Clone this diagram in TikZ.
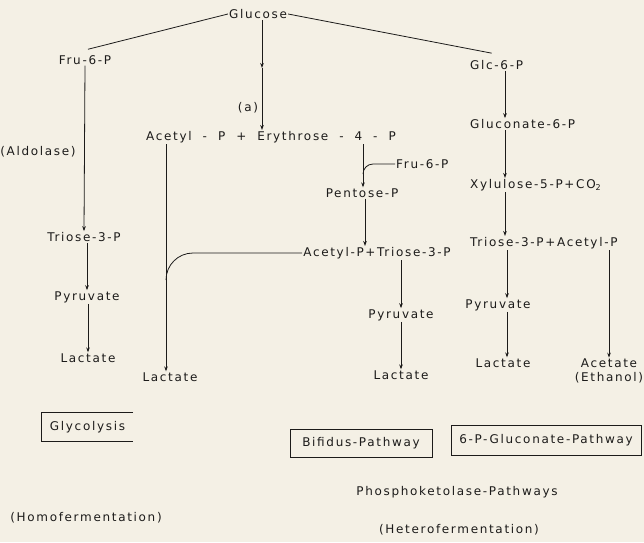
\documentclass[tikz,border=0pt]{standalone}
\usepackage{fontspec}
\setmainfont{DejaVu Sans}[LetterSpace=14]
\usetikzlibrary{arrows.meta}
\definecolor{paper}{RGB}{244,240,229}
\definecolor{ink}{RGB}{28,27,26}
\tikzset{
  txt/.style={inner sep=1pt, text=ink, font=\fontsize{12}{14}\selectfont},
  arr/.style={->, draw=ink, line width=0.8pt},
  lin/.style={draw=ink, line width=0.8pt},
  pbox/.style={txt, draw=ink, line width=0.8pt, minimum height=28pt},
}
\begin{document}
\begin{tikzpicture}[x=1pt,y=-1pt,>={Stealth[length=5pt,width=3.6pt]}]
\fill[paper] (0,0) rectangle (644,542); % фон
\useasboundingbox (0,0) rectangle (644,542);
% вещества
\node[txt] (glu) at (258,14) {Glucose};
\node[txt] (fru) at (85,60) {Fru-6-P};
\node[txt, anchor=west] (glc) at (469,65) {Glc-6-P};
\node[txt] (acery) at (271,137) {Acetyl\ \ -\ \ P\ \ +\ \ Erythrose\ \ -\ \ 4\ \ -\ \ P};
\node[txt] (a) at (248,108) {(a)};
\node[txt] (aldo) at (38,152) {(Aldolase)};
\node[txt] (triA) at (84,237) {Triose-3-P};
\node[txt] (pyrA) at (87,297) {Pyruvate};
\node[txt] (lacA) at (88,358) {Lactate};
\node[txt] (lacB) at (170,377) {Lactate};
\node[txt, anchor=west] (fruB) at (395,164) {Fru-6-P};
\node[txt] (pen) at (362,193) {Pentose-P};
\node[txt] (actri) at (377,253) {Acetyl-P+Triose-3-P};
\node[txt] (pyrB) at (401,315) {Pyruvate};
\node[txt] (lacC) at (401,375) {Lactate};
\node[txt, anchor=west] (gcn) at (469,124) {Gluconate-6-P};
\node[txt, anchor=west] (xyl) at (469,185) {Xylulose-5-P+CO\textsubscript{2}};
\node[txt, anchor=west] (trac) at (469,243) {Triose-3-P+Acetyl-P};
\node[txt] (pyrC) at (498,305) {Pyruvate};
\node[txt] (lacD) at (503,363) {Lactate};
\node[txt, align=center] (acet) at (609,371) {Acetate\\(Ethanol)};
% пути
\node[txt, minimum width=91pt, minimum height=28pt] (glyco) at (87.5,427) {Glycolysis};
\node[pbox, minimum width=142pt] (bif) at (361,443) {Bifidus-Pathway};
\node[pbox, minimum width=190pt, minimum height=30pt] (gcp) at (546,440) {6-P-Gluconate-Pathway};
\node[txt] (phk) at (457,492) {Phosphoketolase-Pathways};
\node[txt] (homo) at (86,518) {(Homofermentation)};
\node[txt] (hetero) at (459,530) {(Heterofermentation)};
% точки для стрелок
\coordinate (amid) at (262,68);
\coordinate (jn) at (166,280);
\coordinate (br) at (363,174);
\coordinate (cr) at (505,0);
% связи
\draw[lin] (glu.west) -- ([shift={(3,-5)}]fru.north);
\draw[lin] (glu.east) -- ([shift={(-5,-6)}]glc.north);
\draw[arr] (amid |- glu.south) -- (amid);
\draw[arr] (amid) -- (amid |- acery.north);
\draw[arr] (fru.south) -- (triA.north); % альдолаза
\draw[arr] (triA.south -| pyrA) -- (pyrA.north);
\draw[arr] (pyrA.south -| lacA) -- (lacA.north);
\draw[arr] (jn |- acery.south) -- (jn |- lacB.north);
\draw[lin] (actri.west) -- ([xshift=27pt]jn |- actri.west) to[out=180,in=90] (jn);
\draw[arr] (br |- acery.south) -- (br |- pen.north);
\draw[lin] (fruB.west) -- ++(-22,0) to[out=180,in=90] (br);
\draw[arr] ([xshift=3pt]pen.south) -- ([xshift=3pt]pen.south |- actri.north);
\draw[arr] (pyrB.north |- actri.south) -- (pyrB.north);
\draw[arr] (pyrB.south) -- (lacC.north);
\draw[arr] (cr |- glc.south) -- (cr |- gcn.north);
\draw[arr] (cr |- gcn.south) -- (cr |- xyl.north);
\draw[arr] (cr |- xyl.south) -- (cr |- trac.north);
\draw[arr] ([xshift=2pt]cr |- trac.south) -- ([xshift=2pt]cr |- pyrC.north);
\draw[arr] ([xshift=2pt]cr |- pyrC.south) -- ([xshift=2pt]cr |- lacD.north);
\draw[arr] (acet.north |- trac.south) -- (acet.north);
% рамка гликолиза, справа открыта
\draw[lin] (glyco.north east) -- (glyco.north west) -- (glyco.south west) -- (glyco.south east);
\end{tikzpicture}
\end{document}
